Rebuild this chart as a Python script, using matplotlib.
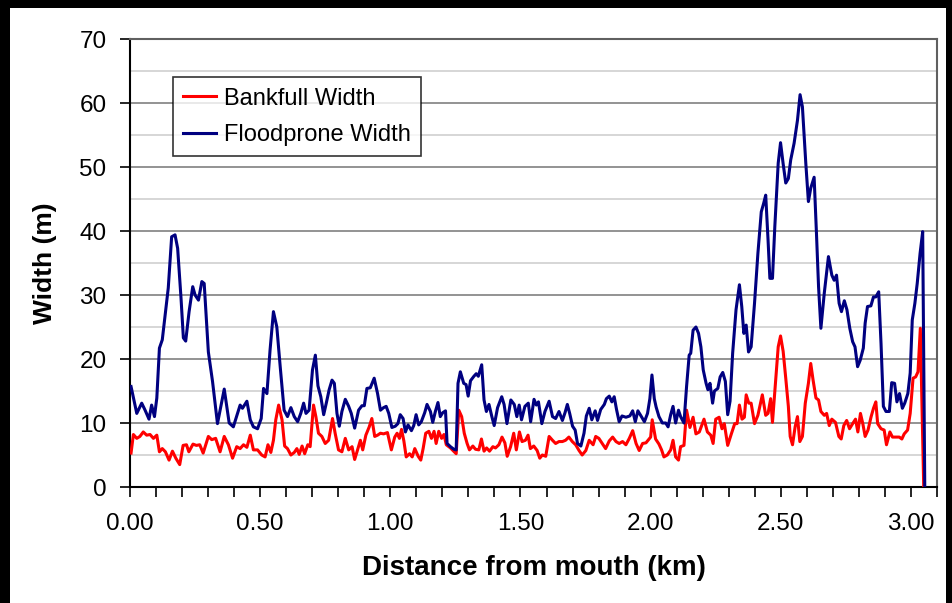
import matplotlib
matplotlib.use("Agg")
import matplotlib.pyplot as plt
from matplotlib.patches import Rectangle
from matplotlib.ticker import MultipleLocator, FormatStrFormatter

plt.rcParams['font.family'] = ['Liberation Sans', 'DejaVu Sans']

flood_km = [0.004, 0.026, 0.045, 0.058, 0.073, 0.083, 0.094, 0.103, 0.113, 0.124, 0.147, 0.160, 0.173, 0.183,
            0.196, 0.205, 0.214, 0.227, 0.241, 0.250, 0.263, 0.276, 0.285, 0.301, 0.317, 0.336, 0.362, 0.381,
            0.397, 0.423, 0.432, 0.449, 0.462, 0.474, 0.490, 0.504, 0.513, 0.526, 0.538, 0.551, 0.564, 0.577,
            0.592, 0.605, 0.618, 0.631, 0.644, 0.656, 0.667, 0.676, 0.688, 0.701, 0.712, 0.722, 0.733, 0.744,
            0.754, 0.765, 0.776, 0.785, 0.795, 0.804, 0.814, 0.827, 0.840, 0.850, 0.863, 0.878, 0.891, 0.900,
            0.910, 0.923, 0.938, 0.951, 0.962, 0.974, 0.984, 0.994, 1.006, 1.019, 1.029, 1.038, 1.049, 1.058,
            1.068, 1.081, 1.090, 1.099, 1.109, 1.119, 1.132, 1.141, 1.154, 1.163, 1.173, 1.183, 1.192, 1.201,
            1.212, 1.218, 1.231, 1.244, 1.253, 1.260, 1.269, 1.282, 1.291, 1.299, 1.308, 1.321, 1.330, 1.338,
            1.351, 1.360, 1.369, 1.379, 1.390, 1.399, 1.412, 1.428, 1.437, 1.448, 1.463, 1.476, 1.486, 1.495,
            1.504, 1.517, 1.530, 1.539, 1.552, 1.561, 1.569, 1.582, 1.594, 1.610, 1.623, 1.635, 1.648, 1.661,
            1.671, 1.680, 1.689, 1.700, 1.710, 1.719, 1.732, 1.744, 1.753, 1.764, 1.774, 1.787, 1.796, 1.808,
            1.822, 1.830, 1.841, 1.851, 1.860, 1.869, 1.879, 1.890, 1.905, 1.920, 1.931, 1.941, 1.951, 1.963,
            1.976, 1.988, 1.997, 2.005, 2.014, 2.021, 2.032, 2.045, 2.058, 2.067, 2.077, 2.086, 2.096, 2.107,
            2.115, 2.128, 2.138, 2.148, 2.154, 2.163, 2.174, 2.184, 2.193, 2.202, 2.213, 2.220, 2.228, 2.238,
            2.245, 2.258, 2.267, 2.277, 2.287, 2.296, 2.305, 2.315, 2.328, 2.341, 2.350, 2.358, 2.367, 2.376,
            2.386, 2.399, 2.412, 2.425, 2.434, 2.442, 2.451, 2.458, 2.468, 2.477, 2.490, 2.499, 2.509, 2.519,
            2.529, 2.538, 2.551, 2.564, 2.574, 2.583, 2.596, 2.606, 2.615, 2.628, 2.637, 2.645, 2.654, 2.667,
            2.683, 2.696, 2.705, 2.714, 2.724, 2.733, 2.744, 2.754, 2.765, 2.776, 2.785, 2.795, 2.805, 2.817,
            2.824, 2.833, 2.846, 2.856, 2.865, 2.876, 2.885, 2.894, 2.904, 2.917, 2.926, 2.937, 2.946, 2.956,
            2.967, 2.976, 2.988, 2.997, 3.005, 3.015, 3.024, 3.035, 3.045, 3.053]
flood_w = [15.7, 11.5, 13.1, 12.0, 10.6, 12.8, 11.0, 13.9, 21.7, 23.0, 31.1, 39.1, 39.4, 37.3,
           29.5, 23.3, 22.8, 27.4, 31.3, 30.0, 29.2, 32.1, 31.8, 21.1, 16.5, 9.9, 15.3, 10.0,
           9.4, 12.8, 12.3, 13.4, 10.5, 9.4, 9.1, 10.7, 15.4, 14.6, 21.4, 27.4, 25.0, 18.8,
           12.0, 11.0, 12.4, 11.0, 10.2, 11.5, 13.1, 11.5, 12.0, 18.3, 20.6, 15.8, 14.1, 11.3,
           13.1, 15.2, 16.7, 16.2, 11.5, 9.5, 11.8, 13.7, 12.6, 11.5, 9.2, 12.0, 12.7, 12.7,
           15.4, 15.5, 17.0, 14.6, 12.0, 12.4, 12.6, 11.5, 9.3, 9.5, 9.9, 11.3, 10.7, 8.6,
           9.7, 8.8, 9.6, 11.3, 9.7, 10.2, 11.6, 12.9, 11.8, 10.1, 11.8, 13.2, 11.0, 11.6,
           11.9, 6.8, 6.3, 5.9, 5.8, 16.2, 18.0, 16.2, 16.0, 14.2, 16.6, 17.3, 17.7, 17.3,
           19.1, 13.6, 11.8, 12.9, 11.0, 9.6, 12.4, 14.1, 12.9, 9.9, 13.6, 12.9, 11.0, 12.8,
           10.5, 12.6, 13.1, 10.2, 13.7, 12.8, 13.3, 9.9, 11.8, 13.4, 11.0, 10.7, 11.8, 10.4,
           11.6, 12.9, 11.5, 9.5, 8.9, 6.8, 6.4, 8.4, 11.1, 12.3, 10.5, 11.9, 10.4, 12.1,
           12.9, 13.8, 14.2, 13.3, 14.1, 12.1, 10.2, 11.1, 10.9, 11.1, 11.9, 10.2, 11.9, 11.1,
           10.2, 11.5, 13.8, 17.5, 13.8, 12.5, 11.0, 10.0, 10.0, 9.4, 11.3, 12.6, 10.0, 12.0,
           11.0, 10.0, 15.7, 20.6, 20.9, 24.5, 25.0, 24.0, 21.9, 18.3, 16.2, 15.2, 16.2, 13.1,
           15.0, 15.4, 17.2, 17.9, 16.5, 11.3, 13.4, 20.9, 27.7, 31.6, 28.2, 24.0, 25.3, 21.1,
           21.9, 28.7, 36.5, 43.0, 44.3, 45.6, 38.6, 32.6, 32.6, 40.7, 50.6, 53.8, 50.5, 47.5,
           48.2, 51.1, 53.7, 57.3, 61.3, 59.4, 50.6, 44.6, 46.7, 48.4, 39.6, 31.3, 24.8, 30.3,
           36.0, 33.1, 32.3, 33.1, 28.7, 27.4, 29.1, 27.7, 24.8, 22.7, 21.9, 18.8, 19.8, 21.7,
           25.6, 28.2, 28.3, 29.7, 29.7, 30.5, 22.4, 12.6, 11.8, 11.8, 16.3, 16.2, 13.3, 14.6,
           12.3, 13.1, 14.6, 17.8, 26.1, 28.7, 31.8, 36.5, 39.9, 0.0]

bank_km = [0.004, 0.013, 0.026, 0.038, 0.051, 0.064, 0.077, 0.090, 0.103, 0.113, 0.124, 0.136, 0.150, 0.163,
           0.176, 0.191, 0.204, 0.217, 0.226, 0.242, 0.255, 0.268, 0.281, 0.301, 0.314, 0.329, 0.346, 0.362,
           0.378, 0.394, 0.410, 0.423, 0.436, 0.449, 0.462, 0.474, 0.490, 0.506, 0.519, 0.530, 0.541, 0.551,
           0.560, 0.571, 0.584, 0.594, 0.605, 0.618, 0.631, 0.641, 0.650, 0.661, 0.671, 0.683, 0.692, 0.705,
           0.714, 0.724, 0.737, 0.750, 0.763, 0.778, 0.788, 0.801, 0.814, 0.827, 0.840, 0.853, 0.863, 0.872,
           0.885, 0.894, 0.906, 0.919, 0.929, 0.940, 0.951, 0.962, 0.974, 0.989, 1.004, 1.017, 1.026, 1.035,
           1.043, 1.052, 1.061, 1.074, 1.084, 1.094, 1.107, 1.117, 1.126, 1.136, 1.148, 1.158, 1.168, 1.176,
           1.186, 1.197, 1.206, 1.215, 1.231, 1.253, 1.263, 1.274, 1.284, 1.295, 1.304, 1.317, 1.327, 1.340,
           1.350, 1.360, 1.370, 1.381, 1.394, 1.404, 1.417, 1.429, 1.440, 1.449, 1.462, 1.474, 1.484, 1.496,
           1.506, 1.519, 1.529, 1.538, 1.551, 1.564, 1.574, 1.584, 1.597, 1.610, 1.623, 1.635, 1.648, 1.661,
           1.673, 1.686, 1.699, 1.712, 1.725, 1.737, 1.751, 1.764, 1.779, 1.789, 1.801, 1.814, 1.827, 1.841,
           1.854, 1.867, 1.879, 1.892, 1.905, 1.918, 1.931, 1.944, 1.956, 1.969, 1.982, 1.994, 2.000, 2.006,
           2.019, 2.032, 2.042, 2.051, 2.064, 2.077, 2.086, 2.096, 2.107, 2.115, 2.128, 2.138, 2.151, 2.163,
           2.174, 2.187, 2.205, 2.218, 2.231, 2.240, 2.250, 2.263, 2.274, 2.283, 2.296, 2.310, 2.323, 2.332,
           2.341, 2.351, 2.360, 2.367, 2.377, 2.386, 2.399, 2.412, 2.429, 2.442, 2.451, 2.461, 2.468, 2.481,
           2.490, 2.499, 2.509, 2.519, 2.529, 2.536, 2.545, 2.555, 2.564, 2.573, 2.583, 2.594, 2.606, 2.615,
           2.624, 2.635, 2.645, 2.654, 2.667, 2.676, 2.686, 2.696, 2.710, 2.723, 2.732, 2.742, 2.753, 2.764,
           2.776, 2.787, 2.796, 2.806, 2.815, 2.824, 2.835, 2.847, 2.856, 2.865, 2.872, 2.885, 2.897, 2.906,
           2.919, 2.929, 2.942, 2.955, 2.965, 2.974, 2.987, 2.997, 3.008, 3.018, 3.027, 3.036, 3.049]
bank_w = [5.3, 8.2, 7.6, 7.9, 8.6, 8.1, 8.2, 7.6, 8.1, 5.5, 6.0, 5.5, 4.2, 5.6,
          4.5, 3.5, 6.5, 6.6, 5.5, 6.7, 6.5, 6.6, 5.3, 7.9, 7.4, 7.6, 5.5, 7.9,
          6.6, 4.5, 6.3, 6.0, 6.6, 6.2, 8.1, 5.8, 5.8, 5.0, 4.7, 6.6, 5.4, 7.3,
          10.5, 12.8, 10.5, 6.4, 6.0, 5.0, 5.4, 6.0, 5.1, 6.4, 5.2, 6.6, 6.3, 12.8,
          11.0, 8.4, 7.9, 6.8, 7.3, 10.7, 8.4, 5.8, 5.5, 7.6, 5.8, 6.3, 4.3, 5.5,
          7.3, 5.8, 8.1, 9.4, 10.7, 7.9, 8.1, 8.4, 8.3, 8.5, 5.8, 7.8, 8.4, 7.6,
          9.0, 7.2, 4.7, 5.2, 4.7, 6.0, 4.8, 4.2, 6.0, 8.4, 8.7, 7.6, 8.7, 6.8,
          8.7, 7.6, 8.2, 6.6, 6.1, 5.2, 12.0, 11.0, 8.4, 6.8, 5.8, 6.4, 5.9, 5.8,
          7.5, 5.6, 6.1, 5.6, 6.3, 6.1, 6.6, 7.8, 6.9, 4.8, 6.3, 8.4, 5.8, 8.6,
          7.1, 7.3, 8.1, 6.0, 6.4, 5.7, 4.5, 5.0, 4.8, 7.9, 7.3, 6.8, 7.1, 7.1,
          7.3, 7.8, 7.1, 6.6, 5.7, 5.0, 5.7, 7.3, 6.6, 7.9, 7.6, 6.8, 6.0, 7.2,
          7.8, 7.1, 6.8, 7.1, 6.6, 7.6, 8.8, 6.8, 5.7, 6.8, 6.9, 7.5, 7.8, 10.5,
          7.5, 6.7, 5.8, 4.7, 5.0, 5.8, 7.3, 4.7, 4.2, 6.3, 6.5, 12.0, 9.3, 10.9,
          8.3, 8.6, 10.6, 8.6, 8.1, 6.8, 10.6, 10.9, 9.1, 9.9, 6.5, 8.3, 9.9, 9.9,
          12.8, 10.6, 10.9, 14.4, 13.1, 13.1, 9.9, 11.2, 14.4, 11.2, 11.5, 13.8, 10.1, 17.2,
          21.9, 23.6, 21.2, 17.0, 12.6, 7.9, 6.6, 9.4, 11.0, 7.1, 7.9, 13.1, 16.2, 19.3,
          16.7, 13.9, 13.6, 11.8, 11.2, 11.5, 9.6, 10.6, 10.1, 7.9, 7.5, 9.6, 10.4, 9.1,
          9.9, 10.6, 8.6, 11.5, 9.9, 7.9, 8.9, 11.0, 12.3, 13.3, 9.9, 9.1, 8.9, 6.6,
          8.6, 7.8, 7.8, 7.8, 7.5, 8.3, 8.9, 11.5, 17.0, 17.2, 18.0, 24.8, 0.0]

x_ticks = [0.0, 0.5, 1.0, 1.5, 2.0, 2.5, 3.0]
y_ticks = [0, 10, 20, 30, 40, 50, 60, 70]

fig = plt.figure(figsize=(9.53, 6.03), dpi=100, facecolor='black')
fig.patches.append(Rectangle((10/953, 0), (946-10)/953, (603-8)/603, transform=fig.transFigure,
                             facecolor='white', edgecolor='none', zorder=-10))
ax = fig.add_axes([130/953, 1-487/603, (937-130)/953, (487-39)/603])
ax.set_facecolor('white')

ax.plot(bank_km, bank_w, color='#FF0000', lw=2.2, label='Bankfull Width', zorder=3)
ax.plot(flood_km, flood_w, color='#000080', lw=2.2, label='Floodprone Width', zorder=4)

ax.set_xlim(0, 3.1)
ax.set_ylim(0, 70)
ax.set_xticks(x_ticks)
ax.xaxis.set_minor_locator(MultipleLocator(0.1))
ax.xaxis.set_major_formatter(FormatStrFormatter('%.2f'))
ax.set_yticks(y_ticks)
ax.yaxis.set_minor_locator(MultipleLocator(5))
ax.tick_params(axis='y', which='minor', length=0)
ax.tick_params(axis='both', which='major', direction='out', length=7, width=1.2, labelsize=17.5, colors='black')
ax.tick_params(axis='x', which='minor', direction='out', length=7, width=1.2)
ax.tick_params(axis='x', which='major', pad=12)
ax.tick_params(axis='y', which='major', pad=10)

ax.grid(axis='y', which='major', color='#808080', lw=1.2, zorder=0)
ax.grid(axis='y', which='minor', color='#d0d0d0', lw=1.2, zorder=0)
ax.set_axisbelow(True)

for s in ['left', 'bottom']:
    ax.spines[s].set_color('black')
    ax.spines[s].set_linewidth(1.5)
for s in ['top', 'right']:
    ax.spines[s].set_color('#606060')
    ax.spines[s].set_linewidth(1.5)

ax.set_xlabel('Distance from mouth (km)', fontsize=20, fontweight='bold', labelpad=14)
ax.set_ylabel('Width (m)', fontsize=19, fontweight='bold', labelpad=16)

leg = ax.legend(loc='upper left', bbox_to_anchor=(0.053, 0.915), borderaxespad=0, fontsize=17,
                frameon=True, fancybox=False, edgecolor='black', handlelength=1.4, handletextpad=0.3,
                borderpad=0.45, labelspacing=0.6)
leg.get_frame().set_linewidth(1.2)

fig.savefig('out.png', dpi=100, facecolor='black')
